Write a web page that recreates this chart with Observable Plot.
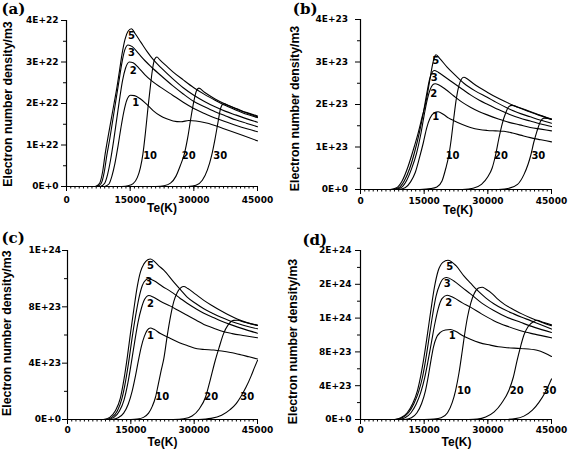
<!DOCTYPE html>
<html><head><meta charset="utf-8">
<script src="https://cdn.jsdelivr.net/npm/d3@7"></script>
<script src="https://cdn.jsdelivr.net/npm/@observablehq/plot@0.6"></script>
<style>
body{margin:0;background:#fff;}
#chart{position:relative;width:568px;height:452px;overflow:hidden;background:#fff;}
.cell{position:absolute;width:284px;height:226px;}
.cell svg{overflow:visible;}
</style></head><body><div id="chart"></div>
<script>
// ---- shared axis data ----
const seriesNames = ["1","2","3","5","10","20","30"];
const xTicks = [0, 15000, 30000, 45000];
const xTickLabels = ["0", "15000", "30000", "45000"];
const xMinorStep = 1000;
const xLabel = "Te(K)";
const yLabel = "Electron number density/m3";

// ---- panel (a): values in units of 1e22 m^-3 ----
const aTicks = [0,1,2,3,4];
const aTickLabels = ["0E+0","1E+22","2E+22","3E+22","4E+22"];
const aMinor = [0.5,1.5,2.5,3.5];
const a1 = [[9000,0],[10000,0.06],[10700,0.25],[11400,0.55],[12100,0.95],[12800,1.4],[13500,1.8],[14200,2.08],[15100,2.2],[16000,2.19],[17300,2.12],[18800,1.99],[20400,1.83],[22000,1.71],[23600,1.63],[25100,1.58],[27000,1.56],[28800,1.59],[30500,1.58],[33000,1.53],[36900,1.4],[41600,1.23],[45000,1.1]];
const a2 = [[8000,0],[9000,0.08],[9700,0.3],[10400,0.65],[11100,1.1],[11800,1.6],[12500,2.1],[13200,2.55],[13900,2.85],[14800,3.0],[15700,2.98],[17000,2.86],[18500,2.69],[20000,2.55],[22500,2.37],[25000,2.2],[27500,2.03],[30000,1.88],[32500,1.76],[35000,1.65],[37500,1.56],[40000,1.47],[42500,1.39],[45000,1.32]];
const a3 = [[7200,0],[8200,0.08],[8900,0.35],[9500,0.75],[10200,1.15],[10900,1.6],[11600,2.05],[12300,2.5],[13000,2.95],[13700,3.28],[14500,3.41],[15500,3.37],[17000,3.2],[18500,3.03],[20000,2.88],[22500,2.65],[25000,2.43],[27500,2.23],[30000,2.05],[32500,1.92],[35000,1.8],[37500,1.7],[40000,1.6],[42500,1.52],[45000,1.44]];
const a5 = [[6800,0],[7800,0.08],[8500,0.35],[9100,0.78],[9800,1.2],[10500,1.6],[11200,2.0],[11900,2.4],[12500,2.8],[13100,3.2],[13800,3.55],[14500,3.74],[15300,3.8],[16200,3.68],[17500,3.48],[19000,3.25],[20500,3.05],[22500,2.84],[25000,2.6],[27500,2.38],[30000,2.2],[32500,2.05],[35000,1.92],[37500,1.81],[40000,1.72],[42500,1.63],[45000,1.55]];
const a10 = [[13000,0],[14500,0.02],[15700,0.07],[16700,0.22],[17400,0.45],[18000,0.78],[18600,1.3],[19200,1.9],[19800,2.45],[20300,2.85],[20800,3.07],[21300,3.12],[22000,3.05],[23600,2.9],[25000,2.77],[27500,2.57],[30000,2.38],[32500,2.22],[35000,2.08],[37500,1.95],[40000,1.84],[42500,1.74],[45000,1.66]];
const a20 = [[21000,0],[23000,0.02],[24500,0.08],[25800,0.25],[26800,0.5],[27800,0.8],[28600,1.2],[29300,1.65],[30000,2.05],[30600,2.3],[31200,2.37],[32500,2.27],[35000,2.11],[37500,1.98],[40000,1.87],[42500,1.77],[45000,1.68]];
const a30 = [[28500,0],[30500,0.03],[32000,0.15],[33200,0.4],[34200,0.75],[35000,1.15],[35700,1.55],[36300,1.88],[37000,1.99],[38500,1.94],[40000,1.88],[42500,1.78],[45000,1.7]];
const aLabelT = [16300,15700,15300,15300,19700,28800,36200];
const aLabelN = [2.02,2.8,3.22,3.64,0.75,0.75,0.75];

// ---- panel (b): units of 1e23 ----
const bTicks = [0,1,2,3,4];
const bTickLabels = ["0E+0","1E+23","2E+23","3E+23","4E+23"];
const bMinor = [0.5,1.5,2.5,3.5];
const b1 = [[9000,0],[10500,0.04],[11800,0.18],[12900,0.4],[13900,0.75],[14800,1.1],[15600,1.45],[16400,1.68],[17300,1.8],[18300,1.83],[19500,1.77],[20800,1.68],[22000,1.62],[24000,1.53],[25900,1.46],[28000,1.41],[29850,1.39],[31800,1.38],[33800,1.37],[35800,1.33],[37700,1.28],[40000,1.22],[42500,1.17],[45000,1.12]];
const b2 = [[8000,0],[9500,0.04],[10800,0.2],[12000,0.48],[13200,0.85],[14200,1.3],[15000,1.75],[15700,2.1],[16400,2.35],[17000,2.46],[17600,2.49],[18500,2.46],[20000,2.36],[22000,2.2],[24000,2.05],[26000,1.93],[28000,1.83],[30000,1.75],[32500,1.66],[35000,1.58],[37500,1.52],[40000,1.46],[42500,1.42],[45000,1.38]];
const b3 = [[7500,0],[9000,0.04],[10300,0.2],[11600,0.5],[12800,0.9],[13900,1.35],[14800,1.8],[15600,2.25],[16300,2.6],[16900,2.76],[17400,2.8],[18300,2.76],[20000,2.64],[22000,2.5],[24000,2.36],[26000,2.22],[28000,2.1],[30000,2.0],[32500,1.88],[35000,1.77],[37500,1.68],[40000,1.61],[42500,1.54],[45000,1.48]];
const b5 = [[7000,0],[8500,0.04],[9800,0.2],[11170,0.53],[12400,0.92],[13530,1.31],[14500,1.7],[15500,2.1],[16200,2.5],[16800,2.85],[17300,3.08],[17800,3.17],[18700,3.08],[20400,2.88],[22000,2.72],[24350,2.5],[27000,2.32],[29850,2.17],[32000,2.05],[34560,1.92],[37000,1.81],[40000,1.71],[42500,1.63],[45000,1.56]];
const b10 = [[14000,0],[16500,0.02],[18000,0.06],[19200,0.2],[20100,0.5],[20800,0.8],[21400,1.2],[22000,1.7],[22600,2.15],[23200,2.45],[23800,2.6],[24350,2.64],[25200,2.6],[26500,2.5],[28000,2.4],[29850,2.29],[32000,2.17],[33800,2.08],[36200,1.97],[39300,1.85],[42000,1.75],[45000,1.65]];
const b20 = [[24000,0],[26500,0.03],[28500,0.12],[30000,0.3],[31000,0.5],[31800,0.8],[32600,1.2],[33400,1.55],[34200,1.8],[34950,1.95],[35700,1.98],[37000,1.94],[39300,1.86],[42000,1.76],[45000,1.66]];
const b30 = [[32500,0],[35000,0.03],[37000,0.12],[38500,0.35],[39500,0.6],[40100,0.8],[40800,1.1],[41600,1.38],[42400,1.6],[43200,1.68],[44100,1.67],[45000,1.65]];
const bLabelT = [17700,17250,17350,17700,21700,33100,41900];
const bLabelN = [1.70,2.26,2.64,3.02,0.8,0.8,0.8];

// ---- panel (c): units of 1e23 ----
const cTicks = [0,4,8,12];
const cTickLabels = ["0E+0","4E+23","8E+23","1E+24"];
const cMinor = [2,6,10];
const c1 = [[10500,0],[12000,0.12],[13300,0.45],[14400,1.1],[15300,2.0],[16100,3.1],[16800,4.2],[17500,5.2],[18200,5.9],[18900,6.35],[19650,6.5],[20500,6.4],[22000,6.1],[24390,5.75],[26500,5.45],[28340,5.25],[30700,5.02],[32500,4.97],[34640,4.93],[36500,4.86],[38590,4.76],[41000,4.6],[43000,4.45],[45000,4.3]];
const c2 = [[9500,0],[11000,0.15],[12300,0.6],[13400,1.4],[14300,2.6],[15100,4.0],[15900,5.5],[16700,6.9],[17500,7.9],[18300,8.55],[19260,8.8],[20300,8.7],[22000,8.4],[24390,8.05],[26500,7.7],[28340,7.4],[30500,7.05],[32300,6.75],[34500,6.5],[36230,6.3],[39000,6.1],[42000,5.95],[45000,5.8]];
const c3 = [[9000,0],[10500,0.15],[11800,0.6],[12900,1.5],[13800,2.8],[14600,4.3],[15300,5.8],[16100,7.3],[16900,8.6],[17700,9.5],[18500,9.9],[19260,10.0],[20500,9.85],[22500,9.45],[24390,9.1],[26500,8.65],[28340,8.25],[30500,7.85],[32290,7.55],[34500,7.25],[36230,7.02],[39000,6.7],[42000,6.4],[45000,6.13]];
const c5 = [[8500,0],[10000,0.15],[11300,0.6],[12500,1.5],[13400,2.9],[14200,4.5],[14900,6.1],[15700,7.8],[16500,9.4],[17300,10.5],[18100,11.05],[19000,11.35],[19650,11.4],[20500,11.25],[21500,10.95],[22800,10.6],[25180,9.75],[26800,9.2],[28340,8.69],[30300,8.25],[32290,7.86],[34300,7.55],[36230,7.27],[38500,7.0],[40500,6.8],[42500,6.62],[45000,6.44]];
const c10 = [[15000,0],[16500,0.03],[18000,0.15],[19200,0.45],[20100,0.95],[20840,1.58],[21500,2.5],[22200,3.5],[22800,4.3],[23600,5.9],[24390,7.3],[25200,8.4],[25970,9.0],[26800,9.35],[27550,9.44],[28500,9.3],[30300,8.9],[32290,8.46],[34300,8.08],[36230,7.74],[38200,7.42],[40180,7.14],[42500,6.88],[45000,6.67]];
const c20 = [[25000,0],[27500,0.05],[29500,0.25],[31200,0.75],[32680,1.58],[33800,2.8],[34990,4.19],[36000,5.2],[36960,6.1],[38000,6.7],[39330,7.04],[40200,7.05],[42000,6.9],[45000,6.7]];
const c30 = [[31000,0],[34000,0.08],[36500,0.3],[38500,0.7],[40000,1.15],[41000,1.6],[42300,2.3],[43500,3.1],[44300,3.7],[45000,4.2]];
const cLabelT = [19650,19650,19260,19650,22420,34020,42550];
const cLabelN = [5.97,8.25,9.75,10.93,1.58,1.58,1.58];

// ---- panel (d): units of 1e23 ----
const dTicks = [0,4,8,12,16,20];
const dTickLabels = ["0E+0","4E+23","8E+23","1E+24","2E+24","2E+24"];
const dMinor = [2,6,10,14,18];
const d1 = [[10500,0],[12000,0.2],[13300,0.8],[14400,1.9],[15300,3.4],[16000,5.2],[16600,7.0],[17200,8.6],[17900,9.7],[18800,10.3],[20000,10.6],[21200,10.65],[22500,10.4],[24000,9.95],[25900,9.5],[28000,9.1],[30600,8.8],[32500,8.6],[34500,8.5],[37700,8.4],[41600,8.2],[43500,7.85],[45000,7.45]];
const d2 = [[9000,0],[10500,0.2],[11900,0.8],[13100,1.8],[14200,3.2],[15100,4.9],[15900,6.9],[16700,9.1],[17500,11.3],[18300,13.1],[19200,14.3],[20400,14.7],[22000,14.4],[24000,13.8],[25900,13.3],[28500,12.5],[31400,11.7],[34500,11.05],[37700,10.5],[41000,10.1],[45000,9.66]];
const d3 = [[8300,0],[9800,0.2],[11300,0.8],[12600,1.9],[13700,3.3],[14600,5.0],[15400,7.2],[16200,9.8],[17000,12.4],[17800,14.6],[18700,16.0],[19600,16.7],[20300,16.8],[22000,16.4],[24000,15.6],[25900,14.87],[28500,13.8],[31400,12.9],[34500,12.1],[37700,11.5],[41000,10.9],[45000,10.3]];
const d5 = [[8000,0],[9500,0.2],[11000,0.8],[12300,1.9],[13400,3.4],[14200,5.2],[15000,7.5],[15800,10.2],[16600,13],[17400,15.6],[18300,17.6],[19400,18.6],[20600,18.85],[22500,18.2],[24350,17.0],[26000,16.1],[27500,15.3],[29500,14.4],[31400,13.7],[33500,13.1],[36100,12.5],[38000,12.1],[40050,11.7],[42500,11.2],[45000,10.7]];
const d10 = [[15000,0],[17300,0.05],[19000,0.2],[20500,0.8],[21600,2.0],[22400,3.43],[23200,5.5],[24000,8.2],[24600,10.3],[25200,12.1],[26000,13.8],[26800,14.9],[27800,15.55],[28700,15.65],[29500,15.45],[31000,14.9],[32200,14.3],[34000,13.6],[36100,13.0],[38000,12.5],[40000,12.05],[42500,11.55],[45000,11.1]];
const d20 = [[25500,0],[27500,0.05],[29500,0.3],[31500,0.9],[33200,1.9],[34950,3.43],[36000,5.0],[36900,7.0],[37700,8.6],[38500,10.0],[39500,11.0],[40800,11.6],[41600,11.75],[43000,11.5],[45000,11.2]];
const d30 = [[34000,0],[36500,0.1],[38500,0.4],[40500,1.1],[42000,2.0],[43500,3.2],[45000,4.8]];
const dLabelT = [21600,20810,20420,21050,24400,36800,44500];
const dLabelN = [9.94,13.76,16.05,18.02,3.43,3.43,3.43];

// ---- layout (pixels) per panel ----
const panels = [
  {id:"(a)", left:0,   top:0,   m:[20,27,40,66], yMax:4,  ticks:aTicks, tickLabels:aTickLabels, minor:aMinor, curves:[a1,a2,a3,a5,a10,a20,a30], lT:aLabelT, lN:aLabelN,
   yPad:3, xPad:5.2, title:[-65,-7], ylab:[-58.5,0.5], xlab:[0,25]},
  {id:"(b)", left:284, top:0,   m:[19,17,37,76], yMax:4,  ticks:bTicks, tickLabels:bTickLabels, minor:bMinor, curves:[b1,b2,b3,b5,b10,b20,b30], lT:bLabelT, lN:bLabelN,
   yPad:7.5, xPad:3.6, title:[-67.7,-6], ylab:[-65,4], xlab:[2,24]},
  {id:"(c)", left:0,   top:226, m:[24,27,33,67], yMax:12, ticks:cTicks, tickLabels:cTickLabels, minor:cMinor, curves:[c1,c2,c3,c5,c10,c20,c30], lT:cLabelT, lN:cLabelN,
   yPad:1.5, xPad:1.8, title:[-66,-8], ylab:[-60,-1.8], xlab:[0,26]},
  {id:"(d)", left:284, top:226, m:[24,17,33,76], yMax:20, ticks:dTicks, tickLabels:dTickLabels, minor:dMinor, curves:[d1,d2,d3,d5,d10,d20,d30], lT:dLabelT, lN:dLabelN,
   yPad:4, xPad:1.8, title:[-58,-6], ylab:[-67,6.5], xlab:[0.5,26]}
];

const xMinor = Array.from({length: 45000 / xMinorStep + 1}, (_, i) => i * xMinorStep);
const chart = document.getElementById("chart");

for (const p of panels) {
  const rows = [];
  p.curves.forEach((pts, i) => pts.forEach(([T, n]) => rows.push({series: seriesNames[i], T, n})));
  const labels = seriesNames.map((s, i) => ({s, T: p.lT[i], n: p.lN[i]}));
  const svg = Plot.plot({
    width: 284, height: 226,
    marginTop: p.m[0], marginRight: p.m[1], marginBottom: p.m[2], marginLeft: p.m[3],
    x: {domain: [0, 45000]},
    y: {domain: [0, p.yMax]},
    style: {fontFamily: "DejaVu Sans", fontWeight: "bold", fontSize: "9px", color: "#000", background: "transparent"},
    marks: [
      Plot.axisX(xMinor, {tickSize: 2.5, tickFormat: () => "", label: null, stroke: "#000"}),
      Plot.axisX(xTicks, {tickSize: 5, tickPadding: p.xPad, tickFormat: d => xTickLabels[xTicks.indexOf(d)], label: null, stroke: "#000"}),
      Plot.axisY(p.minor, {tickSize: 3, tickFormat: () => "", label: null, stroke: "#000"}),
      Plot.axisY(p.ticks, {tickSize: 5, tickPadding: p.yPad, tickFormat: d => p.tickLabels[p.ticks.indexOf(d)], label: null, stroke: "#000"}),
      Plot.ruleY([0], {stroke: "#000", strokeWidth: 1.2}),
      Plot.ruleX([0], {stroke: "#000", strokeWidth: 1.2}),
      Plot.line(rows, {x: "T", y: "n", z: "series", curve: "monotone-x", stroke: "#000", strokeWidth: 1.1}),
      Plot.text(labels, {x: "T", y: "n", text: "s", fontSize: 10, fontWeight: "bold", fill: "#000"}),
      Plot.text([p.id], {text: d => d, frameAnchor: "top-left", textAnchor: "start", lineAnchor: "bottom",
        dx: p.title[0], dy: p.title[1], fontFamily: "DejaVu Serif", fontSize: 15, fontWeight: "bold", fill: "#000"}),
      Plot.text([yLabel], {text: d => d, frameAnchor: "left", rotate: -90, textAnchor: "middle", lineAnchor: "middle",
        dx: p.ylab[0], dy: p.ylab[1], fontFamily: "Liberation Sans", fontSize: 12.3, fontWeight: "bold", fill: "#000"}),
      Plot.text([xLabel], {text: d => d, frameAnchor: "bottom", textAnchor: "middle", lineAnchor: "bottom",
        dx: p.xlab[0], dy: p.xlab[1], fontFamily: "Liberation Sans", fontSize: 12, fontWeight: "bold", fill: "#000"})
    ]
  });
  const cell = document.createElement("div");
  cell.className = "cell";
  cell.style.left = p.left + "px";
  cell.style.top = p.top + "px";
  cell.appendChild(svg);
  chart.appendChild(cell);
}
</script></body></html>
